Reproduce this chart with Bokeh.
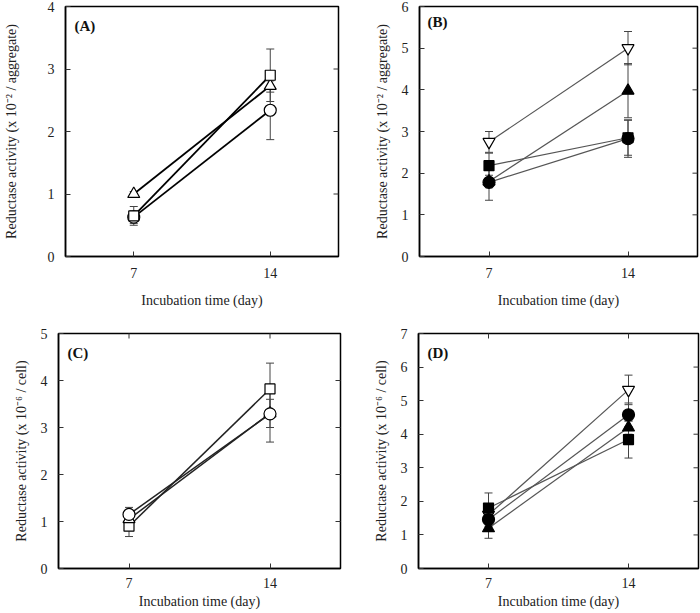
import math
from bokeh.plotting import figure
from bokeh.models import ColumnDataSource, Whisker, Label, FixedTicker, Range1d, TeeHead
from bokeh.layouts import column, row
from bokeh.embed import file_html
from bokeh.resources import INLINE

days = [7, 14]
x_ticks = [7, 14]
x_start, x_end = 3.5, 17.5

# Panel A (x 10^-2 / aggregate)
a_square = [0.65, 2.90]
a_square_err = [0.15, 0.42]
a_triangle = [1.00, 2.73]
a_triangle_err = [0.04, 0.10]
a_circle = [0.63, 2.34]
a_circle_err = [0.10, 0.47]

# Panel B (x 10^-2 / aggregate)
b_invtri = [2.75, 5.00]
b_invtri_err = [0.25, 0.40]
b_triangle = [1.80, 3.98]
b_triangle_err = [0.15, 0.65]
b_square = [2.18, 2.85]
b_square_err = [0.30, 0.42]
b_circle = [1.78, 2.83]
b_circle_err = [0.43, 0.45]

# Panel C (x 10^-6 / cell)
c_square = [0.90, 3.82]
c_square_err = [0.22, 0.55]
c_triangle = [1.05, 3.30]
c_triangle_err = [0.10, 0.30]
c_circle = [1.15, 3.29]
c_circle_err = [0.15, 0.60]

# Panel D (x 10^-6 / cell)
d_invtri = [1.60, 5.32]
d_invtri_err = [0.20, 0.44]
d_circle = [1.46, 4.58]
d_circle_err = [0.20, 0.35]
d_triangle = [1.20, 4.20]
d_triangle_err = [0.30, 0.20]
d_square = [1.80, 3.84]
d_square_err = [0.45, 0.55]

FONT = "Liberation Serif"


def make_panel(label, ymax, ylabel, series, width, height, borders, line_color, line_width,
               top_ticks, y_label_standoff, x_tick_standoff, x_label_standoff, lab_dx, lab_dy):
    bl, br, bt, bb = borders
    p = figure(width=width, height=height, x_range=Range1d(x_start, x_end), y_range=Range1d(0, ymax),
               output_backend="svg", toolbar_location=None,
               min_border_left=bl, min_border_right=br, min_border_top=bt, min_border_bottom=bb,
               background_fill_color="white", border_fill_color="white",
               outline_line_color="black", outline_line_width=1.5)
    p.xgrid.visible = False
    p.ygrid.visible = False

    y_ticks = list(range(0, ymax + 1))
    xa = p.xaxis[0]
    xa.ticker = FixedTicker(ticks=x_ticks)
    xa.axis_label = "Incubation time (day)"
    ya = p.yaxis[0]
    ya.ticker = FixedTicker(ticks=y_ticks)
    ya.axis_label = ylabel
    for ax in (xa, ya):
        ax.major_tick_in = 5
        ax.major_tick_out = 0
        ax.minor_tick_line_color = None
        ax.axis_line_color = "black"
        ax.axis_line_width = 1.5
        ax.major_tick_line_color = "#333333"
        ax.major_tick_line_width = 1
        ax.major_label_text_font = FONT
        ax.major_label_text_font_size = "14px"
        ax.major_label_text_color = "#222222"
        ax.axis_label_text_font = FONT
        ax.axis_label_text_font_size = "14px"
        ax.axis_label_text_font_style = "normal"
        ax.axis_label_text_color = "#222222"
    xa.major_label_standoff = x_tick_standoff
    xa.axis_label_standoff = x_label_standoff
    ya.major_label_standoff = 11
    ya.axis_label_standoff = y_label_standoff

    # mirrored inward ticks on the right edge (and top edge for C/D)
    rt = ColumnDataSource(dict(x=[x_end] * (len(y_ticks) - 2), y=y_ticks[1:-1]))
    p.scatter("x", "y", source=rt, marker="dash", size=10, line_color="#333333", line_width=1)
    if top_ticks:
        tt = ColumnDataSource(dict(x=x_ticks, y=[ymax] * len(x_ticks)))
        p.scatter("x", "y", source=tt, marker="dash", size=10, angle=math.pi / 2,
                  line_color="#333333", line_width=1)

    sources = []
    for marker, filled, vals, errs, size in series:
        src = ColumnDataSource(dict(
            x=days, y=vals,
            upper=[v + e for v, e in zip(vals, errs)],
            lower=[v - e for v, e in zip(vals, errs)]))
        sources.append((marker, filled, size, src))
        w = Whisker(base="x", upper="upper", lower="lower", source=src,
                    line_color="#444444", line_width=1,
                    upper_head=TeeHead(size=8, line_color="#444444", line_width=1),
                    lower_head=TeeHead(size=8, line_color="#444444", line_width=1))
        p.add_layout(w)
    for marker, filled, size, src in sources:
        p.line("x", "y", source=src, line_color=line_color, line_width=line_width)
    for marker, filled, size, src in sources:
        p.scatter("x", "y", source=src, marker=marker, size=size,
                  fill_color="black" if filled else "white",
                  line_color="black", line_width=1.2)

    p.add_layout(Label(x=x_start, y=ymax, x_offset=lab_dx, y_offset=-lab_dy, text=label,
                       text_font=FONT, text_font_style="bold", text_font_size="15px",
                       text_baseline="top", text_color="#111111"))
    return p


pA = make_panel("(A)", 4, "Reductase activity (x 10\u207b\u00b2 / aggregate)",
                [("triangle", False, a_triangle, a_triangle_err, 12),
                 ("circle", False, a_circle, a_circle_err, 12),
                 ("square", False, a_square, a_square_err, 10)],
                350, 313, (54, 12, 6, 56), "black", 1.8, False, 26, 11, 12, 9, 11)

pB = make_panel("(B)", 6, "Reductase activity (x 10\u207b\u00b2 / aggregate)",
                [("inverted_triangle", False, b_invtri, b_invtri_err, 12),
                 ("triangle", True, b_triangle, b_triangle_err, 12),
                 ("square", True, b_square, b_square_err, 10),
                 ("circle", True, b_circle, b_circle_err, 12)],
                350, 313, (69, 3, 6, 57), "#555555", 1.2, False, 9, 11, 12, 8, 7)

pC = make_panel("(C)", 5, "Reductase activity (x 10\u207b\u2076 / cell)",
                [("square", False, c_square, c_square_err, 10),
                 ("triangle", False, c_triangle, c_triangle_err, 12),
                 ("circle", False, c_circle, c_circle_err, 12)],
                350, 300, (58, 10, 20, 45), "#222222", 1.5, True, 9, 9, 3, 9, 11)

pD = make_panel("(D)", 7, "Reductase activity (x 10\u207b\u2076 / cell)",
                [("inverted_triangle", False, d_invtri, d_invtri_err, 12),
                 ("circle", True, d_circle, d_circle_err, 12),
                 ("triangle", True, d_triangle, d_triangle_err, 12),
                 ("square", True, d_square, d_square_err, 10)],
                350, 300, (68, 2, 20, 45), "#555555", 1.2, True, 9, 9, 3, 9, 11)

layout = column(row(pA, pB), row(pC, pD))

with open("out.html", "w") as f:
    f.write(file_html(layout, INLINE))
